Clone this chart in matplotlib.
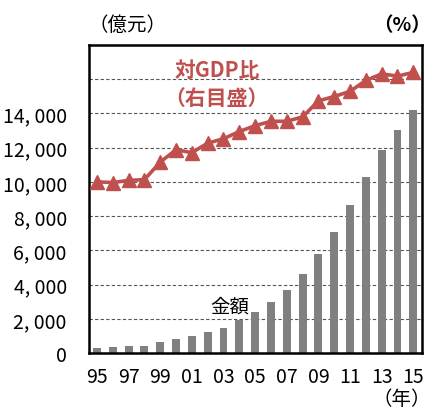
import matplotlib
matplotlib.use('Agg')
import matplotlib.pyplot as plt

plt.rcParams['font.family'] = ['Liberation Sans Narrow', 'Noto Sans CJK JP', 'DejaVu Sans']

years = list(range(1995, 2016))
year_labels = ['95', '97', '99', '01', '03', '05', '07', '09', '11', '13', '15']
amount = [300, 350, 400, 440, 650, 850, 1030, 1260, 1500, 1950, 2430,
          3000, 3700, 4600, 5800, 7060, 8670, 10280, 11840, 13000, 14200]
ratio = [0.57, 0.56, 0.59, 0.60, 0.84, 1.01, 0.97, 1.10, 1.16, 1.26, 1.34,
         1.40, 1.40, 1.46, 1.68, 1.74, 1.81, 1.96, 2.05, 2.02, 2.07]
left_ticks = [0, 2000, 4000, 6000, 8000, 10000, 12000, 14000, 16000]
left_labels = ['0', '2, 000', '4, 000', '6, 000', '8, 000', '10, 000', '12, 000', '14, 000', '']

red = '#C0504D'
jp = ['Noto Sans CJK JP', 'DejaVu Sans']

fig = plt.figure(figsize=(4.31, 4.10), dpi=100)
ax = fig.add_axes([0.2065, 0.136, 0.7726, 0.7525])

ax.bar(years, amount, width=0.5, color='#808080', zorder=2)
ax.set_xlim(1994.5, 2015.55)
ax.set_ylim(0, 18000)
ax.set_yticks(left_ticks)
ax.set_yticklabels(left_labels, fontsize=14)
ax.set_xticks(years[::2])
ax.set_xticklabels(year_labels, fontsize=14)
ax.tick_params(axis='both', length=0)
ax.tick_params(axis='y', pad=16)
ax.tick_params(axis='x', pad=9)
for v in left_ticks[1:]:
    ax.axhline(v, color='#555555', lw=0.8, ls=(0, (3, 2)), zorder=1)
for s in ax.spines.values():
    s.set_linewidth(1.8)

ax2 = ax.twinx()
ax2.plot(years, ratio, color=red, lw=2.6, marker='^', markersize=10, zorder=3)
ax2.set_ylim(-1.78, 2.45)
ax2.set_yticks([])
for s in ax2.spines.values():
    s.set_visible(False)

fig.text(0.205, 0.938, '（億元）', fontsize=14, family=jp, ha='left', va='center')
fig.text(1.0, 0.938, '（%）', fontsize=14, family=jp, ha='right', va='center', weight='bold')
fig.text(0.505, 0.829, '対GDP比', fontsize=15, family=jp, color=red, weight='bold', ha='center', va='center')
fig.text(0.503, 0.759, '（右目盛）', fontsize=15, family=jp, color=red, weight='bold', ha='center', va='center')
fig.text(0.534, 0.252, '金額', fontsize=14, family=jp, ha='center', va='center')
fig.text(1.0, 0.025, '（年）', fontsize=14, family=jp, ha='right', va='center')

fig.savefig('out.png', dpi=100)
